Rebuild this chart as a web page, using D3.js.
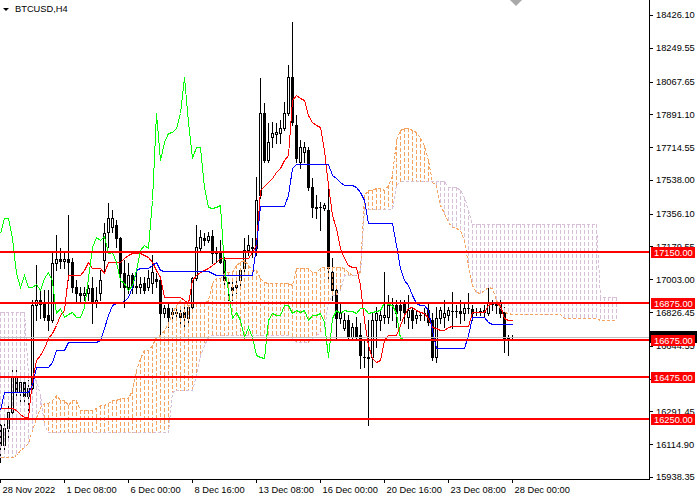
<!DOCTYPE html>
<html><head><meta charset="utf-8">
<script src="https://cdn.jsdelivr.net/npm/d3@7"></script>
<style>
body{margin:0;background:#fff}
svg{display:block}
</style>
</head><body>
<svg id="chart" width="700" height="500"></svg>
<script>
const symbolName = "BTCUSD,H4";
const timeLabels = ["28 Nov 2022","1 Dec 08:00","6 Dec 00:00","8 Dec 16:00","13 Dec 08:00","16 Dec 00:00","20 Dec 16:00","23 Dec 08:00","28 Dec 00:00"];
const timeLabelBars = [0,16,32,48,64,80,96,112,128];
const priceTicks = [18426.10,18249.55,18067.65,17891.10,17714.55,17538.00,17356.10,17179.55,17003.00,16826.45,16644.55,16468.00,16291.45,16114.90,15938.35];
const levelPrices = [17150,16875,16675,16475,16250];
const chikouShift = 26;

const opens = [16218,16111,16202,16288,16471,16396,16450,16374,16418,16865,
 16892,16870,16811,16784,17091,17112,17101,17112,17096,16962,
 16929,16918,16929,16956,16875,16929,17107,17258,17285,17295,
 17225,17037,16962,17026,16967,16962,16983,16962,16983,17005,
 16999,16822,16848,16827,16822,16822,16827,16795,16854,17010,
 17172,17225,17215,17236,17145,17150,17107,16988,16962,16962,
 16999,17064,17161,17177,17172,17458,17899,17647,17770,17786,
 17791,17818,17899,18092,17834,17636,17690,17700,17501,17392,
 17392,17387,17376,17042,16945,16795,16741,16784,16692,16746,
 16703,16584,16584,16584,16784,16784,16800,16800,16865,16865,
 16865,16875,16800,16838,16795,16811,16822,16838,16784,16584,
 16795,16800,16811,16832,16832,16832,16822,16848,16843,16827,
 16827,16827,16822,16870,16870,16875,16827,16687,16692];
const highs = [16256,16245,16326,16531,16515,16504,16488,16461,16892,17080,
 16945,16945,16945,17145,17242,17172,17150,17349,17118,16999,
 16962,16962,16972,17015,16962,17053,17306,17414,17376,17322,
 17231,17107,17091,17037,17037,17015,17015,17053,17134,17037,
 17015,16865,16875,16848,16854,16838,16854,16865,17015,17295,
 17268,17252,17258,17268,17177,17215,17123,17010,16988,17015,
 17064,17225,17242,17225,17554,18087,17953,17845,17851,17845,
 17862,17958,18157,18389,17888,17754,17743,17716,17550,17458,
 17419,17414,17528,17118,16962,16875,16822,16811,16768,16800,
 16768,16676,16784,16822,16854,16838,17042,16918,16902,16892,
 16892,16892,16918,16854,16838,16827,16848,16875,16822,16854,
 16854,16892,16854,16935,16865,16892,16881,16929,16865,16848,
 16848,16865,16962,16892,16881,16892,16854,16703,16703];
const lows = [16019,16084,16138,16256,16364,16326,16342,16256,16396,16784,
 16795,16784,16730,16773,17053,17064,17064,16999,16935,16875,
 16875,16892,16892,16768,16854,16892,17037,17177,17258,17177,
 16962,16854,16929,16929,16929,16929,16929,16945,16929,16962,
 16692,16800,16746,16795,16784,16768,16730,16768,16848,16999,
 17161,17188,17204,17091,17096,17091,16962,16892,16892,16929,
 16972,17026,17134,17123,17134,17442,17636,17636,17716,17738,
 17738,17807,17888,17834,17636,17604,17636,17485,17338,17333,
 17268,17376,17010,16892,16676,16768,16730,16676,16676,16676,
 16525,16531,16218,16531,16638,16730,16768,16768,16784,16746,
 16784,16768,16741,16741,16768,16784,16784,16757,16568,16558,
 16768,16746,16784,16741,16800,16768,16784,16822,16784,16811,
 16811,16800,16811,16838,16822,16800,16611,16595,16681];
const closes = [16111,16202,16288,16471,16396,16450,16374,16418,16865,16892,
 16870,16800,16784,17091,17112,17101,17112,17096,16962,16929,
 16918,16929,16956,16875,16892,16999,17252,17333,17333,17225,
 17037,16962,17026,16962,16962,16978,16945,17010,17042,16994,
 16822,16848,16800,16816,16827,16800,16800,16854,17010,17177,
 17231,17215,17236,17145,17150,17096,16999,16983,16945,16972,
 17053,17161,17188,17172,17430,17899,17647,17743,17791,17797,
 17818,17899,18092,17851,17657,17716,17716,17501,17392,17387,
 17392,17403,17064,16945,16795,16827,16784,16692,16746,16692,
 16595,16584,16579,16784,16822,16811,16811,16865,16865,16822,
 16838,16827,16838,16784,16811,16811,16822,16773,16584,16795,
 16838,16822,16838,16832,16832,16822,16848,16848,16822,16827,
 16832,16838,16881,16870,16865,16822,16687,16692,16692];

const tenkan = [16310,16310,16310,16310,16299,16278,16261,16261,16461,16568,
 16595,16633,16687,16714,16757,16811,16838,17026,17026,17026,
 17026,17053,17096,17064,17064,17064,17037,17096,17096,17096,
 17096,17118,17134,17145,17145,17145,17134,17123,17096,17053,
 17015,16908,16908,16908,16908,16908,16892,16875,16999,17026,
 17042,17053,17064,17080,17096,17118,17118,17118,17118,17118,
 17118,17118,17118,17150,17188,17485,17507,17528,17550,17582,
 17604,17647,17673,17969,17995,17979,17969,17888,17851,17834,
 17823,17700,17512,17349,17279,17172,17118,17080,17069,17069,
 16972,16784,16649,16579,16558,16568,16676,16703,16703,16703,
 16757,16811,16848,16854,16838,16827,16822,16795,16746,16741,
 16730,16730,16746,16752,16752,16752,16752,16752,16827,16827,
 16827,16827,16865,16875,16875,16865,16795,16784,16784];
const kijun = [16299,16396,16396,16396,16396,16396,16396,16396,16434,16531,
 16531,16531,16531,16558,16622,16622,16622,16665,16665,16665,
 16665,16665,16665,16665,16665,16676,16741,16811,16865,16875,
 16875,16886,16908,16962,17053,17064,17064,17064,17080,17096,
 17053,17048,17048,17048,17048,17048,17048,17048,17048,17048,
 17048,17048,17048,17037,17026,17026,17026,17026,17026,17026,
 17026,17026,17026,17026,17188,17398,17398,17398,17398,17398,
 17398,17398,17458,17604,17625,17625,17625,17625,17625,17625,
 17625,17625,17625,17566,17550,17528,17512,17512,17512,17501,
 17474,17430,17306,17306,17306,17306,17306,17306,17306,17188,
 17064,16999,16972,16918,16875,16865,16865,16838,16730,16633,
 16633,16633,16633,16633,16633,16633,16633,16703,16800,16800,
 16800,16800,16773,16762,16762,16762,16762,16762,16762];
const spanA = [16046,16046,16046,16046,16057,16084,16100,16122,16191,16256,
 16315,16337,16337,16353,16380,16353,16353,16326,16353,16353,
 16299,16299,16299,16299,16310,16326,16326,16337,16353,16353,
 16364,16364,16364,16407,16515,16579,16622,16622,16649,16692,
 16703,16730,16768,16822,16865,16892,16875,16865,16875,16875,
 16875,16875,16892,16983,17010,17010,17037,17042,17042,17080,
 17096,17107,17080,17053,17053,17010,16988,16983,16983,16983,
 16983,16983,16983,16972,17064,17064,17064,17064,17042,17042,
 17064,17069,17069,17069,17069,17069,17064,17042,17026,17026,
 17053,17458,17485,17485,17496,17496,17485,17512,17566,17754,
 17807,17818,17818,17807,17797,17764,17727,17647,17528,17512,
 17403,17360,17312,17285,17279,17268,17215,17080,16972,16935,
 16929,16945,16962,16956,16892,16848,16827,16822,16816,16816,
 16816,16816,16816,16816,16816,16816,16816,16816,16816,16816,
 16816,16795,16795,16795,16795,16795,16795,16795,16795,16795,
 16784,16784,16784,16784,16784];
const spanB = [16827,16827,16827,16827,16827,16827,16827,16488,16471,16461,
 16380,16218,16181,16181,16181,16181,16181,16181,16181,16181,
 16181,16181,16181,16181,16181,16181,16181,16181,16181,16181,
 16181,16181,16181,16181,16181,16181,16181,16181,16181,16181,
 16181,16181,16181,16396,16407,16407,16407,16407,16407,16488,
 16595,16649,16692,16703,16703,16703,16703,16703,16703,16703,
 16703,16703,16703,16703,16703,16703,16703,16703,16703,16703,
 16703,16703,16703,16687,16665,16665,16665,16665,16687,16703,
 16719,16741,16881,16918,16918,16945,17026,17026,17026,17026,
 17042,17381,17381,17381,17381,17381,17381,17381,17381,17512,
 17534,17534,17534,17534,17534,17534,17534,17534,17534,17534,
 17534,17534,17501,17501,17501,17485,17447,17376,17301,17301,
 17301,17301,17301,17301,17301,17301,17301,17301,17301,17301,
 17301,17301,17301,17301,17301,17301,17301,17301,17301,17301,
 17301,17301,17301,17301,17301,17301,17301,17301,17301,17301,
 16908,16908,16908,16908,16908];

const FONT = "'Liberation Sans', Arial, sans-serif";
const svg = d3.select("#chart");
const plotW = 649, plotH = 479;

const x = d3.scaleLinear().domain([0, 154]).range([0, 616]);
const y = d3.scaleLinear().domain([15938.35, 18426.10]).range([477, 15]);
const X = i => Math.round(x(i)) + 0.5;
const Y = v => Math.round(y(v)) + 0.5;

svg.append("defs").append("clipPath").attr("id", "clip")
  .append("rect").attr("x", 0).attr("y", 0).attr("width", plotW).attr("height", plotH);

const g = svg.append("g").attr("clip-path", "url(#clip)").attr("shape-rendering", "crispEdges");

// candles
const bars = d3.range(opens.length);
const cg = g.append("g");
cg.selectAll("line.wick").data(bars).join("line").attr("class", "wick")
  .attr("x1", i => X(i)).attr("x2", i => X(i))
  .attr("y1", i => Math.round(y(highs[i])))
  .attr("y2", i => Math.round(y(lows[i])) + 1)
  .attr("stroke", "#000");
cg.selectAll("rect.body").data(bars).join("rect").attr("class", "body")
  .each(function(i) {
    const cx = Math.round(x(i));
    const o = opens[i], c = closes[i];
    const top = Math.round(y(Math.max(o, c))), bot = Math.round(y(Math.min(o, c)));
    const r = d3.select(this);
    if (c > o) {
      r.attr("x", cx - 0.5).attr("y", top + 0.5).attr("width", 2).attr("height", Math.max(bot - top, 1))
       .attr("fill", "#fff").attr("stroke", "#000");
    } else {
      r.attr("x", cx - 1).attr("y", top).attr("width", 3).attr("height", bot - top + 1).attr("fill", "#000");
    }
  });

// cloud hatch
const cloudIdx = d3.range(spanA.length);
g.append("g").selectAll("line").data(cloudIdx).join("line")
  .attr("x1", i => X(i)).attr("x2", i => X(i))
  .attr("y1", i => Math.round(y(Math.max(spanA[i], spanB[i]))))
  .attr("y2", i => Math.round(y(Math.min(spanA[i], spanB[i]))) + 1)
  .attr("stroke", i => spanA[i] >= spanB[i] ? "#F4A460" : "#D8BFD8")
  .attr("stroke-dasharray", "4,2");

const line = d3.line().x(d => X(d[0])).y(d => Y(d[1]));
const addLine = (pts, color, dash) => {
  const p = g.append("path").attr("d", line(pts)).attr("fill", "none").attr("stroke", color).attr("stroke-width", 1);
  if (dash) p.attr("stroke-dasharray", dash);
};
addLine(cloudIdx.map(i => [i, spanA[i]]), "#F4A460", "3,2");
addLine(cloudIdx.map(i => [i, spanB[i]]), "#D8BFD8", "3,2");
addLine(bars.map(i => [i, tenkan[i]]), "#FF0000");
addLine(bars.map(i => [i, kijun[i]]), "#0000FF");
addLine(bars.filter(i => i >= chikouShift).map(i => [i - chikouShift, closes[i]]), "#00FF00");

// bid line
const lastClose = closes[closes.length - 1];
g.append("line").attr("x1", 0).attr("x2", plotW).attr("y1", Y(lastClose)).attr("y2", Y(lastClose)).attr("stroke", "#C0C0C0");

// horizontal levels
g.append("g").selectAll("line").data(levelPrices).join("line")
  .attr("x1", 0).attr("x2", plotW)
  .attr("y1", d => Math.round(y(d))).attr("y2", d => Math.round(y(d)))
  .attr("stroke", "#FF0000").attr("stroke-width", 2);

// frame
svg.append("line").attr("x1", plotW + 0.5).attr("x2", plotW + 0.5).attr("y1", 0).attr("y2", plotH + 1).attr("stroke", "#000").attr("shape-rendering", "crispEdges");
svg.append("line").attr("x1", 0).attr("x2", plotW + 1).attr("y1", plotH + 0.5).attr("y2", plotH + 0.5).attr("stroke", "#000").attr("shape-rendering", "crispEdges");

// price axis
const ay = svg.append("g").attr("transform", `translate(${plotW},0)`)
  .call(d3.axisRight(y).tickValues(priceTicks).tickSize(4).tickPadding(3).tickFormat(d3.format(".2f")));
ay.select(".domain").remove();
ay.attr("font-family", FONT).attr("font-size", 9.3);
ay.selectAll("line").attr("shape-rendering", "crispEdges");
ay.selectAll("text").attr("fill", "#000");

// time axis
const ax = svg.append("g").attr("transform", `translate(0,${plotH})`)
  .call(d3.axisBottom(x).tickValues(timeLabelBars).tickSize(4).tickPadding(3).tickFormat((d, i) => timeLabels[i]));
ax.select(".domain").remove();
ax.attr("font-family", FONT).attr("font-size", 9.3);
ax.selectAll("line").attr("shape-rendering", "crispEdges");
ax.selectAll("text").attr("text-anchor", "start").attr("x", 2).attr("fill", "#000");

// bid label (mostly hidden)
svg.append("rect").attr("x", plotW + 1).attr("y", Math.round(y(lastClose)) - 6).attr("width", 47).attr("height", 12).attr("fill", "#000");

// level labels
const lab = svg.append("g");
levelPrices.forEach(v => {
  const ly = Math.round(y(v));
  lab.append("rect").attr("x", plotW + 2).attr("y", ly - 5).attr("width", 44).attr("height", 11).attr("fill", "#FF0000");
  lab.append("text").attr("x", plotW + 5).attr("y", ly + 4).attr("fill", "#fff")
    .attr("font-family", FONT).attr("font-size", 9.3).text(d3.format(".2f")(v));
});

// title
svg.append("path").attr("d", "M3,8 L9,8 L6,11 Z").attr("fill", "#000");
svg.append("text").attr("x", 15).attr("y", 12).attr("font-family", FONT).attr("font-size", 9.3).attr("fill", "#000").text(symbolName);

// chart shift marker
svg.append("path").attr("d", "M510,0 L522,0 L516,6 Z").attr("fill", "#A9A9A9");
</script>
</body></html>
